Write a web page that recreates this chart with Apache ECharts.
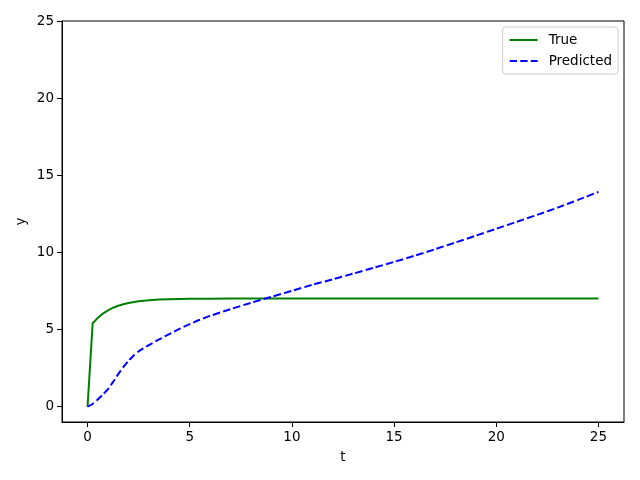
<!DOCTYPE html>
<html><head><meta charset="utf-8">
<script src="https://cdn.jsdelivr.net/npm/echarts@6/dist/echarts.min.js"></script>
<style>html,body{margin:0;padding:0;background:#fff}#c{width:640px;height:480px}</style>
</head><body><div id="c"></div>
<script>
const trueT = [0,0.25,0.5,0.75,1,1.25,1.5,1.75,2,2.5,3,3.5,4,4.5,5,6,7,8,10,15,20,25];
const trueY = [0,5.4,5.75,6.03,6.24,6.41,6.54,6.64,6.72,6.83,6.9,6.94,6.96,6.975,6.985,6.995,7.0,7.0,7.0,7.0,7.0,7.0];
const predT = [0,0.25,0.5,0.75,1,1.25,1.5,1.75,2,2.25,2.5,3,3.5,4,4.5,5,5.5,6,7,8,9,10,11,12,13,14,15,16,17,18,19,20,21,22,23,24,25];
const predY = [0,0.17,0.46,0.78,1.13,1.6,2.1,2.56,2.96,3.3,3.58,3.99,4.35,4.7,5.04,5.35,5.63,5.88,6.32,6.73,7.12,7.5,7.9,8.25,8.62,9.0,9.38,9.78,10.2,10.64,11.08,11.53,11.98,12.43,12.9,13.4,13.92];
const xTicks = [0,5,10,15,20,25];
const yTicks = [0,5,10,15,20,25];
const seriesNames = ['True','Predicted'];

const chart = echarts.init(document.getElementById('c'), null, {renderer:'canvas'});
const font = 'DejaVu Sans';
chart.setOption({
  animation:false,
  textStyle:{fontFamily:font},
  grid:{left:62,right:16,top:21,bottom:58,show:true,borderColor:'#000',borderWidth:1,backgroundColor:'transparent'},
  legend:{
    data:[{name:seriesNames[0]},{name:seriesNames[1]}],
    orient:'vertical', right:22, top:27, itemWidth:28, itemHeight:10, itemGap:7,
    borderColor:'#cccccc', borderWidth:1, borderRadius:3, padding:[6,6,6,6],
    itemStyle:{opacity:0},
    textStyle:{fontFamily:font,fontSize:13.5,color:'#000',padding:[0,0,0,6]}
  },
  xAxis:{
    type:'value', min:-1.25, max:26.25,
    name:'t', nameLocation:'middle', nameGap:28,
    nameTextStyle:{fontFamily:font,fontSize:13.5,color:'#000'},
    axisLine:{show:true,onZero:false,lineStyle:{color:'#000',width:1}},
    axisTick:{show:true,length:5,lineStyle:{color:'#000'},customValues:xTicks},
    axisLabel:{fontFamily:font,fontSize:13.5,color:'#000',margin:8,customValues:xTicks},
    splitLine:{show:false}
  },
  yAxis:{
    type:'value', min:-1, max:25,
    name:'y', nameLocation:'middle', nameGap:34, nameMoveOverlap:false,
    nameTextStyle:{fontFamily:font,fontSize:13.5,color:'#000'},
    axisLine:{show:true,onZero:false,lineStyle:{color:'#000',width:1}},
    axisTick:{show:true,length:5,lineStyle:{color:'#000'},customValues:yTicks},
    axisLabel:{fontFamily:font,fontSize:13.5,color:'#000',margin:8,customValues:yTicks},
    splitLine:{show:false}
  },
  series:[
    {name:seriesNames[0],type:'line',data:trueT.map((t,i)=>[t,trueY[i]]),showSymbol:false,symbol:'none',smooth:false,
     lineStyle:{color:'#008000',width:2},itemStyle:{color:'#008000'}},
    {name:seriesNames[1],type:'line',data:predT.map((t,i)=>[t,predY[i]]),showSymbol:false,symbol:'none',smooth:0.2,
     lineStyle:{color:'#0000ff',width:2,type:[7.4,3.2]},itemStyle:{color:'#0000ff'}}
  ]
});
</script></body></html>
